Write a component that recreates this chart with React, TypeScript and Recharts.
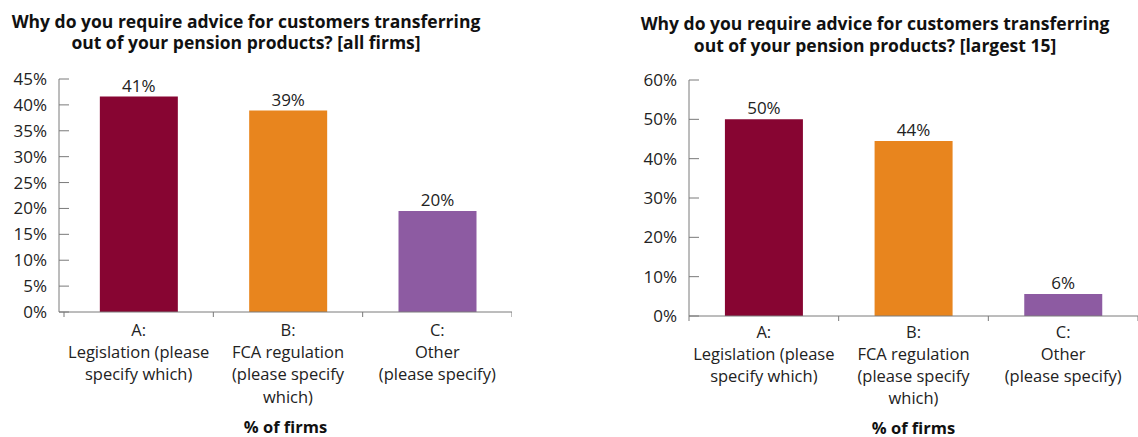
import React from "react"
import { BarChart, Bar, XAxis, YAxis, LabelList, Cell } from "recharts"

const CATEGORIES = ["A", "B", "C"]
const CATEGORY_LINES = [
  ["A:", "Legislation (please", "specify which)"],
  ["B:", "FCA regulation", "(please specify", "which)"],
  ["C:", "Other", "(please specify)"],
]
const COLORS = ["#870532", "#E8851E", "#8D5BA2"]

const ALL_FIRMS_VALUES = [41.6, 38.9, 19.5]
const ALL_FIRMS_LABELS = ["41%", "39%", "20%"]
const ALL_FIRMS_TICKS = [0, 5, 10, 15, 20, 25, 30, 35, 40, 45]

const LARGEST_VALUES = [50, 44.5, 5.6]
const LARGEST_LABELS = ["50%", "44%", "6%"]
const LARGEST_TICKS = [0, 10, 20, 30, 40, 50, 60]

const FONT = "'Open Sans', 'Noto Sans', sans-serif"
const AXIS = "#7a7a7a"
const TEXT = "#222"

function CategoryTick(props: any) {
  const { x, y, payload, index, count, firstDy, lineGap } = props
  const lines = CATEGORY_LINES[index] ?? []
  const half = payload?.offset ?? 75
  return (
    <g>
      <line x1={x - half} y1={y} x2={x - half} y2={y + 5} stroke={AXIS} />
      {index === count - 1 && (
        <line x1={x + half} y1={y} x2={x + half} y2={y + 5} stroke={AXIS} />
      )}
      <text x={x} y={y} textAnchor="middle" fill={TEXT} fontSize={16.5} fontFamily={FONT}>
        {lines.map((l, i) => (
          <tspan key={i} x={x} dy={i === 0 ? firstDy : lineGap}>{l}</tspan>
        ))}
      </text>
    </g>
  )
}

function Panel({
  values, labels, ticks, left, width, plotTop, plotBottom, padLeft, title, titleCenter, titleTop,
  firstDy, lineGap, unitOffset,
}: {
  values: number[]
  labels: string[]
  ticks: number[]
  left: number
  width: number
  plotTop: number
  plotBottom: number
  padLeft: number
  title: string[]
  titleCenter: number
  titleTop: number
  firstDy: number
  lineGap: number
  unitOffset: number
}) {
  const data = CATEGORIES.map((c, i) => ({ name: c, value: values[i], label: labels[i] }))
  const height = 437
  const xAxisHeight = height - plotBottom
  return (
    <>
      <div
        style={{
          position: "absolute", left: titleCenter - 280, top: titleTop, width: 560,
          textAlign: "center", fontFamily: FONT, fontWeight: 700, fontSize: 17.5,
          lineHeight: "21.5px", color: "#111",
        }}
      >
        {title.map((t, i) => <div key={i}>{t}</div>)}
      </div>
      <div style={{ position: "absolute", left, top: 0 }}>
        <BarChart
          width={width}
          height={height}
          data={data}
          barCategoryGap="24%"
          margin={{ top: plotTop, right: 0, left: 0, bottom: 0 }}
        >
          <XAxis
            dataKey="name"
            interval={0}
            height={xAxisHeight}
            padding={{ left: padLeft, right: 0 }}
            axisLine={{ stroke: AXIS }}
            tickLine={false}
            tickSize={0}
            tickMargin={0}
            tick={<CategoryTick count={CATEGORIES.length} firstDy={firstDy} lineGap={lineGap} />}
            label={{
              value: "% of firms", position: "insideBottom", offset: unitOffset,
              fill: "#111", fontSize: 16.5, fontWeight: 700, fontFamily: FONT,
            }}
          />
          <YAxis
            width={59}
            domain={[ticks[0], ticks[ticks.length - 1]]}
            ticks={ticks}
            interval={0}
            tickFormatter={(v) => `${v}%`}
            axisLine={{ stroke: AXIS }}
            tickLine={{ stroke: AXIS }}
            tickSize={-10}
            tickMargin={22}
            tick={{ fill: TEXT, fontSize: 17, fontFamily: FONT }}
          />
          <Bar dataKey="value" isAnimationActive={false}>
            {data.map((d, i) => <Cell key={d.name} fill={COLORS[i]} />)}
            <LabelList
              dataKey="label"
              position="top"
              offset={5}
              fill={TEXT}
              fontSize={17}
              fontFamily={FONT}
            />
          </Bar>
        </BarChart>
      </div>
    </>
  )
}

export default function App() {
  return (
    <div style={{ position: "absolute", left: 0, top: 0, width: 1138, height: 437, background: "#fff", overflow: "hidden" }}>
      <Panel
        values={ALL_FIRMS_VALUES}
        labels={ALL_FIRMS_LABELS}
        ticks={ALL_FIRMS_TICKS}
        left={0}
        width={512}
        plotTop={79}
        plotBottom={312}
        padLeft={5}
        title={["Why do you require advice for customers transferring", "out of your pension products? [all firms]"]}
        titleCenter={246}
        titleTop={10.5}
        firstDy={23.7}
        lineGap={22.3}
        unitOffset={4}
      />
      <Panel
        values={LARGEST_VALUES}
        labels={LARGEST_LABELS}
        ticks={LARGEST_TICKS}
        left={630}
        width={508}
        plotTop={80}
        plotBottom={316}
        padLeft={0}
        title={["Why do you require advice for customers transferring", "out of your pension products? [largest 15]"]}
        titleCenter={875}
        titleTop={13}
        firstDy={21.7}
        lineGap={22}
        unitOffset={3}
      />
    </div>
  )
}
